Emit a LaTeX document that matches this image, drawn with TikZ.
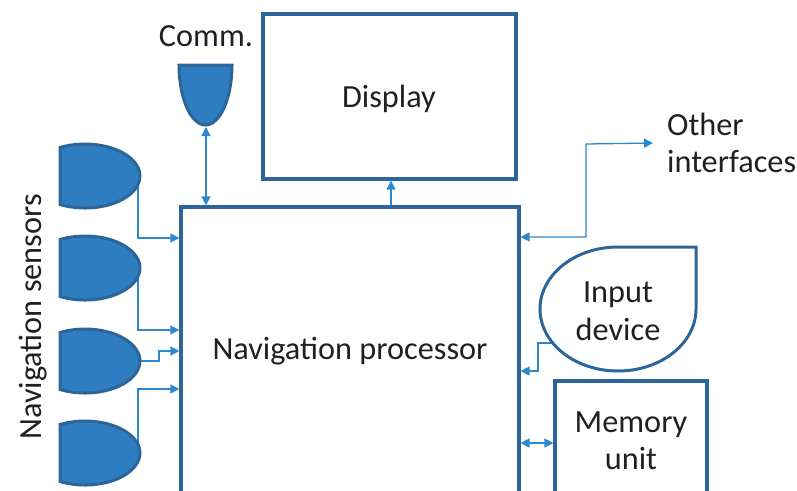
\documentclass[tikz,border=0pt]{standalone}
\usepackage{fontspec}
\setmainfont{Carlito}
\usetikzlibrary{arrows.meta}
\definecolor{edge}{HTML}{2C6699}
\definecolor{blockfill}{HTML}{2E7DC1}
\definecolor{wire}{HTML}{2B88CE}
\definecolor{ink}{HTML}{231F20}
\tikzset{
  box/.style={draw=edge, line width=3.2pt, rectangle, inner sep=0pt, text=ink},
  sensorshape/.style={draw=edge, fill=blockfill, line width=3pt},
  conn/.style={draw=wire, line width=1.3pt},
  tip/.tip={Triangle[length=9pt,width=9pt]},
  lbl/.style={text=ink, inner sep=0pt, align=center},
}
\begin{document}
\begin{tikzpicture}[x=1pt,y=1pt,font=\fontsize{32.3}{37.5}\selectfont]
\useasboundingbox (0,0) rectangle (797,-490);
\clip (0,0) rectangle (797,-490);

% main blocks
\node[box, minimum width=338, minimum height=293] (proc) at (350,-353.5) {};
\node[lbl] (proctext) at (350,-351) {Navigation processor};
\node[box, minimum width=253, minimum height=165] (disp) at (389.5,-96.5) {};
\node[lbl] (disptext) at (389,-99) {Display};
\node[box, minimum width=152, minimum height=119, align=center] (mem) at (631,-440.5) {Memory\\unit};

% labels
\node[lbl] (commlbl) at (206,-36) {Comm.};
\node[lbl, rotate=90] (senslbl) at (33,-317) {Navigation sensors};
\node[lbl, align=left, anchor=west] (other) at (667,-143) {Other\\interfaces};

% connector end points on the curved shapes
\coordinate (s1o) at (138,-185);
\coordinate (s2o) at (138,-277);
\coordinate (s3o) at (139,-361);
\coordinate (s4o) at (138,-444);
\coordinate (commtip) at (206,-127);
\coordinate (idl) at (552,-343);

% connectors
\draw[conn,-tip] (s1o) |- (proc.west |- 0,-238);
\draw[conn,-tip] (s2o) |- (proc.west |- 0,-330);
\draw[conn,-tip] (s3o) -- ++(20,0) |- (proc.west |- 0,-351);
\draw[conn,-tip] (s4o) |- (proc.west |- 0,-389);
\draw[conn,tip-tip] (commtip) -- (commtip |- proc.north);
\draw[conn,-tip] (proc.north -| 391,0) -- (disp.south -| 391,0);
\draw[conn,tip-tip] (proc.east |- 0,-237) -| (586,-144) -- ([xshift=-14pt]other.west);
\draw[conn,-tip] (idl) -- ++(-14,0) |- (proc.east |- 0,-371);
\draw[conn,tip-tip] (proc.east |- 0,-443) -- (mem.west |- 0,-443);

% navigation sensors
\foreach \c in {176,268,361,453}{
  \draw[sensorshape] (60,-\c+28.5) arc[start angle=117, end angle=-117, x radius=55, y radius=32] -- cycle;
}

% communication unit
\draw[sensorshape] (179,-65) -- (232,-65) arc[start angle=0, end angle=-180, x radius=26.5, y radius=60] -- cycle;

% input device
\draw[draw=edge, line width=3pt] (618,-247) -- (696,-247) -- (696,-309)
  arc[start angle=0, end angle=-270, x radius=78, y radius=62] -- cycle;
\node[lbl] (idev) at (618,-311) {Input\\device};
\end{tikzpicture}
\end{document}
